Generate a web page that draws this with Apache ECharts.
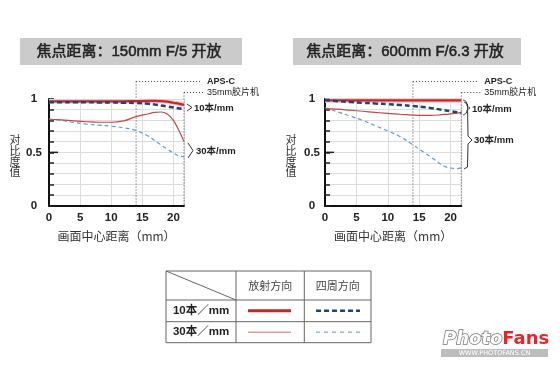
<!DOCTYPE html>
<html><head><meta charset="utf-8">
<script src="https://cdn.jsdelivr.net/npm/echarts@6/dist/echarts.min.js"></script>
<style>html,body{margin:0;padding:0;background:#fff}#c{width:560px;height:368px}</style>
</head><body><div id="c"></div>
<script>
// ---- data ----
const xPos = [0, 2, 4, 6, 8, 10, 12, 14, 16, 17, 18, 19, 20, 21, 21.7];
// 150mm F/5
const A_R10 = [0.978,0.978,0.978,0.978,0.978,0.978,0.979,0.980,0.982,0.982,0.980,0.975,0.965,0.955,0.945];
const A_S10 = [0.970,0.970,0.970,0.969,0.968,0.967,0.965,0.962,0.955,0.948,0.940,0.930,0.920,0.910,0.905];
const A_R30 = [0.810,0.805,0.795,0.787,0.782,0.782,0.795,0.835,0.862,0.874,0.878,0.860,0.800,0.690,0.600];
const A_S30 = [0.810,0.800,0.780,0.765,0.755,0.745,0.730,0.705,0.650,0.610,0.570,0.530,0.495,0.465,0.460];
// 600mm F/6.3
const B_R10 = [0.987,0.987,0.987,0.987,0.987,0.987,0.987,0.987,0.987,0.987,0.987,0.987,0.987,0.987,0.987];
const B_S10 = [0.990,0.980,0.972,0.965,0.958,0.952,0.944,0.934,0.922,0.914,0.905,0.895,0.885,0.875,0.868];
const B_R30 = [0.910,0.905,0.895,0.885,0.875,0.865,0.857,0.848,0.846,0.847,0.850,0.855,0.860,0.868,0.875];
const B_S30 = [0.920,0.880,0.840,0.800,0.750,0.700,0.647,0.570,0.490,0.450,0.406,0.370,0.353,0.347,0.355];
const titles = ['焦点距离：150mm F/5 开放', '焦点距离：600mm F/6.3 开放'];
const xTickLabels = [0, 5, 10, 15, 20];
const yTickLabels = ['0', '0.5', '1'];
const xMax = 21.7, apsc = 14;
const xName = '画面中心距离（mm）';
const yName = '对比度值';
const tblHead = ['放射方向', '四周方向'];
const tblRows = ['10本／mm', '30本／mm'];

const FONT = '"Noto Sans CJK SC", "Noto Sans", sans-serif';
const LFONT = '"Liberation Sans", "Noto Sans CJK SC", sans-serif';
const C_R10 = '#c4262b', C_GLOW = '#f6c4c4', C_S10 = '#1f4477', C_R30 = '#c24a4a', C_S30 = '#5d9bd3';

function pairs(ys){ return xPos.map((x,i)=>[x, ys[i]]); }

function xAxisDef(g){
  return {
    gridIndex: g, type: 'value', min: 0, max: xMax, interval: 5,
    name: xName, nameLocation: 'middle', nameGap: 25,
    nameTextStyle: {fontFamily: FONT, fontSize: 12, color: '#333'},
    axisLine: {lineStyle: {color: '#111', width: 2}},
    axisTick: {show: false},
    axisLabel: {margin: 6, fontFamily: LFONT, fontSize: 11.5, color: '#222', fontWeight: 'bold',
      formatter: v => xTickLabels.includes(Math.round(v*100)/100) ? String(v) : ''},
    splitLine: {show: true, lineStyle: {color: '#dcdcdc', width: 1}}
  };
}
function yAxisDef(g, margin){
  return {
    gridIndex: g, type: 'value', min: 0, max: 1, interval: 0.1,
    axisLine: {show: true, lineStyle: {color: '#111', width: 2}},
    axisTick: {show: true, inside: true, length: 5, lineStyle: {color: '#222', width: 1.5}},
    axisLabel: {margin: margin, align: 'center', fontFamily: LFONT, fontSize: 11.5, color: '#222', fontWeight: 'bold',
      formatter: v => { const r = Math.round(v*10)/10; return r===0?yTickLabels[0]:r===0.5?yTickLabels[1]:r===1?yTickLabels[2]:''; }},
    splitLine: {show: true, lineStyle: {color: '#dcdcdc', width: 1}}
  };
}
function seriesFor(g, R10, S10, R30, S30){
  const base = {type: 'line', xAxisIndex: g, yAxisIndex: g, showSymbol: false, symbol: 'none', smooth: 0.4, animation: false, silent: true};
  return [
    Object.assign({}, base, {data: pairs(S30), lineStyle: {color: C_S30, width: 1.2, type: [4, 3]}}),
    Object.assign({}, base, {data: pairs(R30), lineStyle: {color: C_R30, width: 1.2}}),
    Object.assign({}, base, {data: pairs(R10), lineStyle: {color: C_GLOW, width: 4.5}}),
    Object.assign({}, base, {data: pairs(R10), lineStyle: {color: C_R10, width: 2.2}}),
    Object.assign({}, base, {data: pairs(S10), lineStyle: {color: C_S10, width: 2.5, type: [5, 3]}})
  ];
}

const chart = echarts.init(document.getElementById('c'), null, {renderer: 'canvas'});
chart.setOption({
  animation: false,
  grid: [
    {left: 49, top: 99, width: 135, height: 106.7},
    {left: 325, top: 99, width: 136.3, height: 106.7}
  ],
  xAxis: [xAxisDef(0), xAxisDef(1)],
  yAxis: [yAxisDef(0, 15), yAxisDef(1, 13)],
  series: [].concat(seriesFor(0, A_R10, A_S10, A_R30, A_S30), seriesFor(1, B_R10, B_S10, B_R30, B_S30))
});

// ---- annotations ----
const G = [];
function px(g, x, y){ return chart.convertToPixel({gridIndex: g}, [x, y]); }
const dot = {stroke: '#444', lineWidth: 1, lineDash: [1, 2]};
const lblStyle = {fontFamily: LFONT, fontSize: 9, fill: '#222'};
const boxes = [{x: 20, w: 222}, {x: 293, w: 228}];
[0, 1].forEach(g => {
  G.push({type: 'rect', shape: {x: boxes[g].x, y: 38, width: boxes[g].w, height: 27}, style: {fill: '#cbcbcb'}});
  G.push({type: 'text', x: boxes[g].x + boxes[g].w/2 - 2, y: 51.5, style: {text: titles[g], fontFamily: LFONT, fontSize: 15, fill: '#222', stroke: '#222', lineWidth: 0.5, align: 'center', verticalAlign: 'middle'}});
  const o = px(g, 0, 0), t = px(g, 0, 1);
  yName.split('').forEach((ch, i) => {
    G.push({type: 'text', x: o[0] - 34, y: 140 + i * 10.7, style: {text: ch, fontFamily: FONT, fontSize: 11, fill: '#333', align: 'center', verticalAlign: 'middle'}});
  });
  // longer tick at 0.5
  const h = px(g, 0, 0.5);
  G.push({type: 'line', shape: {x1: h[0], y1: h[1], x2: h[0] + 9, y2: h[1]}, style: {stroke: '#222', lineWidth: 1.5}});
  const a = px(g, apsc, 0), m = px(g, xMax, 0);
  const topA = t[1] - 17.5, topM = t[1] - 6.5;
  G.push({type: 'line', shape: {x1: a[0], y1: topA, x2: a[0], y2: a[1]}, style: dot});
  G.push({type: 'line', shape: {x1: a[0], y1: topA, x2: m[0] + 16, y2: topA}, style: dot});
  G.push({type: 'text', x: m[0] + 23, y: topA, style: Object.assign({text: 'APS-C', fontWeight: 'bold', verticalAlign: 'middle'}, lblStyle)});
  G.push({type: 'line', shape: {x1: m[0], y1: topM, x2: m[0], y2: m[1]}, style: dot});
  G.push({type: 'line', shape: {x1: m[0], y1: topM, x2: m[0] + 19, y2: topM}, style: dot});
  G.push({type: 'text', x: m[0] + 23, y: topM, style: Object.assign({text: '35mm胶片机', verticalAlign: 'middle'}, lblStyle)});
});
// brackets & labels
const br = {stroke: '#333', lineWidth: 1, fill: null};
const bl = {fontFamily: LFONT, fontSize: 9.5, fontWeight: 'bold', fill: '#222', verticalAlign: 'middle'};
G.push({type: 'polyline', shape: {points: [[187, 104], [192, 107.5], [187, 111]]}, style: br});
G.push({type: 'text', x: 194, y: 108, style: Object.assign({text: '10本/mm'}, bl)});
G.push({type: 'polyline', shape: {points: [[188, 143], [193, 150.5], [188, 158]]}, style: br});
G.push({type: 'text', x: 196, y: 151, style: Object.assign({text: '30本/mm'}, bl)});
G.push({type: 'polyline', shape: {smooth: 0.3, points: [[463, 100], [466.5, 102], [467, 106], [470, 108], [467, 110], [466.5, 113], [463, 115]]}, style: br});
G.push({type: 'text', x: 472, y: 109, style: Object.assign({text: '10本/mm'}, bl)});
G.push({type: 'polyline', shape: {points: [[464, 102], [467.5, 104], [468, 136], [472, 140], [468, 144], [467.5, 167], [464, 169]]}, style: br});
G.push({type: 'text', x: 474, y: 140, style: Object.assign({text: '30本/mm'}, bl)});

// ---- table ----
const TL = 166, TR = 371, TT = 271, H1 = 300, H2 = 321.7, TB = 342.7, C1 = 236, C2 = 304.3;
const tb = {stroke: '#666', lineWidth: 1};
G.push({type: 'rect', shape: {x: TL, y: TT, width: TR - TL, height: TB - TT}, style: {fill: 'none', stroke: '#666', lineWidth: 1}});
[H1, H2].forEach(y => G.push({type: 'line', shape: {x1: TL, y1: y, x2: TR, y2: y}, style: tb}));
[C1, C2].forEach(x => G.push({type: 'line', shape: {x1: x, y1: TT, x2: x, y2: TB}, style: tb}));
G.push({type: 'line', shape: {x1: TL, y1: TT, x2: C1, y2: H1}, style: tb});
const th = {fontFamily: FONT, fontSize: 11, fill: '#444', align: 'center', verticalAlign: 'middle'};
G.push({type: 'text', x: (C1 + C2)/2, y: (TT + H1)/2, style: Object.assign({text: tblHead[0]}, th)});
G.push({type: 'text', x: (C2 + TR)/2, y: (TT + H1)/2, style: Object.assign({text: tblHead[1]}, th)});
const tr = {fontFamily: LFONT, fontSize: 11.5, fontWeight: 'bold', fill: '#222', align: 'center', verticalAlign: 'middle'};
const r1 = (H1 + H2)/2, r2 = (H2 + TB)/2;
G.push({type: 'text', x: (TL + C1)/2, y: r1, style: Object.assign({text: tblRows[0]}, tr)});
G.push({type: 'text', x: (TL + C1)/2, y: r2, style: Object.assign({text: tblRows[1]}, tr)});
G.push({type: 'line', shape: {x1: 248, y1: r1, x2: 291, y2: r1}, style: {stroke: C_R10, lineWidth: 3}});
G.push({type: 'line', shape: {x1: 316, y1: r1, x2: 360, y2: r1}, style: {stroke: C_S10, lineWidth: 2.5, lineDash: [5, 3]}});
G.push({type: 'line', shape: {x1: 248, y1: r2, x2: 291, y2: r2}, style: {stroke: '#e29a9a', lineWidth: 1.5}});
G.push({type: 'line', shape: {x1: 316, y1: r2, x2: 360, y2: r2}, style: {stroke: '#8dbbe3', lineWidth: 1.5, lineDash: [4, 4]}});

// ---- logo ----
G.push({type: 'text', x: 443, y: 339, style: {
  text: '{p|Photo}{f|Fans}', verticalAlign: 'middle',
  rich: {
    p: {fontFamily: '"DejaVu Sans", sans-serif', fontSize: 18, fontWeight: 'bold', fontStyle: 'italic', fill: '#fff', stroke: '#777', lineWidth: 1.5},
    f: {fontFamily: '"DejaVu Sans", sans-serif', fontSize: 18, fontWeight: 'bold', fill: '#e3262b'}
  }}});
G.push({type: 'rect', shape: {x: 441, y: 349, width: 107, height: 8}, style: {fill: '#bdbdbd'}});
G.push({type: 'text', x: 494.5, y: 353, style: {text: 'WWW.PHOTOFANS.CN', fontFamily: '"DejaVu Sans", sans-serif', fontSize: 6.5, fill: '#fff', align: 'center', verticalAlign: 'middle'}});

chart.setOption({graphic: {elements: G}});
</script></body></html>
